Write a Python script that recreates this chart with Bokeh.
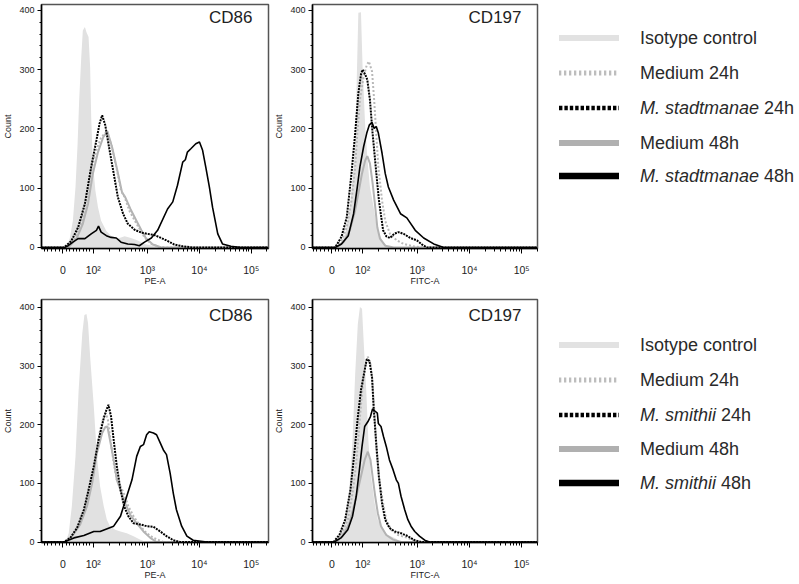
import numpy as np
from bokeh.plotting import figure
from bokeh.models import FixedTicker, SingleIntervalTicker, Label, Div, Range1d
from bokeh.layouts import row, column
from bokeh.embed import file_html
from bokeh.resources import INLINE

FONT = "Liberation Sans"

# ---- axis ticks (x in logicle display units) ----
X_TICKS = [0, 0.58, 1.615, 2.61, 3.60]
X_TICK_LABELS = ["0", "10²", "10³", "10⁴", "10⁵"]
Y_LABEL = "Count"

# ---- Panel 1: CD86, M. stadtmanae ----
P1_ISO_X = [0.00,0.07,0.13,0.19,0.24,0.28,0.31,0.35,0.38,0.42,0.45,0.49,0.52,0.54,0.57,0.62,0.67,0.73,0.83,0.92,1.05,1.18,1.30,1.43,1.56,1.75,2.00]
P1_ISO_Y = [0,3,15,45,102,175,248,321,366,372,363,355,304,220,146,96,68,45,28,20,15,19,16,12,6,2,0]
P1_MED24_X = [0.07,0.23,0.35,0.45,0.54,0.64,0.73,0.83,0.92,1.02,1.11,1.18,1.27,1.37,1.46,1.56,1.69,1.84,2.00]
P1_MED24_Y = [0,15,40,79,130,164,186,195,175,136,96,85,62,46,32,17,6,1,0]
P1_MED48_X = [0.10,0.26,0.38,0.48,0.57,0.67,0.77,0.85,0.94,1.04,1.13,1.19,1.29,1.40,1.50,1.59,1.72,1.88]
P1_MED48_Y = [0,15,40,74,124,161,186,196,169,130,93,85,65,46,29,15,5,0]
P1_M24_X = [0.02,0.16,0.29,0.42,0.54,0.64,0.70,0.75,0.81,0.87,0.96,1.05,1.15,1.24,1.37,1.50,1.62,1.75,1.88,2.00,2.13,2.29,2.48]
P1_M24_Y = [0,11,34,74,136,181,209,223,206,175,130,85,57,40,30,25,23,21,16,11,5,2,0]
P1_M48_X = [0.03,0.10,0.19,0.29,0.42,0.54,0.64,0.68,0.73,0.83,0.92,1.02,1.11,1.24,1.37,1.46,1.56,1.69,1.81,2.00,2.10,2.19,2.29,2.34,2.38,2.45,2.54,2.61,2.67,2.73,2.80,2.86,2.96,3.05,3.21,3.40]
P1_M48_Y = [0,3,9,15,15,23,29,36,26,20,17,16,9,6,5,3,9,16,29,65,77,105,144,148,161,167,175,178,164,136,102,68,23,6,2,0]

# ---- Panel 2: CD197, M. stadtmanae ----
P2_ISO_X = [0.03,0.15,0.25,0.34,0.41,0.46,0.50,0.55,0.58,0.63,0.67,0.72,0.79,0.85,0.95,1.04,1.20]
P2_ISO_Y = [0,6,23,68,136,249,396,397,306,204,153,102,68,34,12,3,0]
P2_MED24_X = [0.09,0.18,0.28,0.37,0.44,0.48,0.53,0.60,0.66,0.70,0.76,0.80,0.84,0.88,0.95,1.01,1.10,1.23,1.36,1.55,1.74]
P2_MED24_Y = [0,12,34,79,136,192,249,288,308,314,297,249,192,136,79,45,23,12,6,2,0]
P2_M24_X = [0.06,0.18,0.28,0.37,0.44,0.50,0.55,0.58,0.63,0.67,0.72,0.77,0.83,0.89,0.97,1.03,1.10,1.18,1.26,1.36,1.49,1.61,1.71,1.80]
P2_M24_Y = [0,18,51,125,193,260,292,300,292,283,249,193,136,80,29,19,16,23,26,23,16,12,5,0]
P2_MED48_X = [0.09,0.22,0.34,0.44,0.50,0.57,0.63,0.67,0.72,0.77,0.82,0.86,0.91,1.01,1.17]
P2_MED48_Y = [0,9,29,63,91,125,147,154,142,109,69,34,15,3,0]
P2_M48_X = [0.06,0.18,0.31,0.41,0.48,0.53,0.60,0.66,0.71,0.76,0.80,0.84,0.88,0.95,1.01,1.07,1.17,1.30,1.42,1.58,1.74,1.93,2.12]
P2_M48_Y = [0,6,20,57,102,136,170,193,207,211,201,204,193,159,125,102,80,57,50,29,16,6,0]

# ---- Panel 3: CD86, M. smithii ----
P3_ISO_X = [0.05,0.11,0.17,0.24,0.30,0.37,0.41,0.45,0.48,0.52,0.59,0.65,0.71,0.78,0.84,0.90,1.00,1.10,1.22,1.35,1.48,1.60]
P3_ISO_Y = [0,15,61,146,259,356,387,389,373,316,231,146,95,61,38,27,21,18,15,10,4,0]
P3_MED24_X = [0.05,0.17,0.30,0.43,0.52,0.62,0.71,0.78,0.82,0.86,0.90,0.97,1.03,1.10,1.16,1.25,1.35,1.48,1.60,1.73,1.92]
P3_MED24_Y = [0,10,30,61,95,140,191,214,220,208,180,135,106,95,84,61,44,27,15,7,0]
P3_M24_X = [0.02,0.14,0.27,0.40,0.49,0.59,0.68,0.78,0.83,0.87,0.92,0.97,1.03,1.10,1.17,1.25,1.35,1.48,1.60,1.73,1.86,1.98,2.11,2.24]
P3_M24_Y = [0,7,24,55,89,129,174,211,225,234,214,174,129,89,61,44,32,30,27,26,18,10,3,0]
P3_MED48_X = [0.05,0.17,0.33,0.46,0.56,0.65,0.75,0.81,0.85,0.90,0.97,1.03,1.10,1.19,1.29,1.41,1.54,1.67,1.79]
P3_MED48_Y = [0,9,30,61,101,152,186,196,197,174,140,106,89,66,46,32,18,7,0]
P3_M48_X = [0.02,0.21,0.40,0.59,0.71,0.97,1.10,1.22,1.32,1.41,1.48,1.54,1.60,1.65,1.73,1.79,1.86,1.92,1.98,2.05,2.11,2.17,2.27,2.37,2.49,2.75]
P3_M48_Y = [0,7,11,18,18,27,44,78,106,146,163,166,183,188,186,183,169,157,149,117,83,55,27,10,3,0]

# ---- Panel 4: CD197, M. smithii ----
P4_ISO_X = [0.04,0.14,0.23,0.33,0.39,0.44,0.49,0.53,0.57,0.60,0.65,0.69,0.74,0.81,0.87,0.97,1.06,1.19,1.31]
P4_ISO_Y = [0,10,32,89,174,287,372,401,398,344,259,174,112,66,38,21,12,7,0]
P4_MED24_X = [0.04,0.17,0.30,0.39,0.46,0.52,0.58,0.63,0.68,0.73,0.77,0.81,0.84,0.90,0.97,1.03,1.12,1.25,1.44,1.63]
P4_MED24_Y = [0,12,38,83,134,202,265,299,316,304,270,214,157,106,66,38,21,12,7,0]
P4_M24_X = [0.03,0.14,0.25,0.35,0.43,0.49,0.55,0.62,0.66,0.71,0.76,0.79,0.84,0.89,0.95,1.01,1.09,1.19,1.31,1.44,1.57,1.70]
P4_M24_Y = [0,12,38,89,157,213,259,293,312,309,281,230,168,111,66,38,24,18,15,10,3,0]
P4_MED48_X = [0.08,0.20,0.33,0.43,0.52,0.62,0.68,0.73,0.77,0.82,0.87,0.93,1.03,1.16,1.31]
P4_MED48_Y = [0,10,32,66,100,140,154,140,112,78,49,27,12,4,0]
P4_M48_X = [0.04,0.17,0.30,0.39,0.46,0.52,0.57,0.62,0.68,0.73,0.77,0.82,0.86,0.88,0.93,0.98,1.03,1.09,1.16,1.22,1.26,1.31,1.38,1.44,1.50,1.57,1.66,1.76,1.85]
P4_M48_Y = [0,7,21,44,78,123,163,197,205,214,227,223,220,202,197,179,163,140,123,106,100,78,55,38,27,18,10,3,0]

# ---- legend ----
LEGEND_TOP = [("", "Isotype control"), ("", "Medium 24h"), ("M. stadtmanae", " 24h"),
              ("", "Medium 48h"), ("M. stadtmanae", " 48h")]
LEGEND_BOTTOM = [("", "Isotype control"), ("", "Medium 24h"), ("M. smithii", " 24h"),
                 ("", "Medium 48h"), ("M. smithii", " 48h")]

# styles
ISO_FILL = "#e1e1e1"
STYLES = {
    "med48": dict(line_color="#b3b3b3", line_width=2.0),
    "med24": dict(line_color="#b8b8b8", line_width=2.0, line_dash="2 2"),
    "m48": dict(line_color="#000000", line_width=1.6),
    "m24": dict(line_color="#000000", line_width=2.0, line_dash="2 1"),
}
LEG_SWATCH = [
    dict(stroke="#e2e2e2", w=6, dash=None),
    dict(stroke="#bdbdbd", w=5, dash="2.3,2.7"),
    dict(stroke="#000000", w=4.7, dash="3.4,2"),
    dict(stroke="#b0b0b0", w=6, dash=None),
    dict(stroke="#000000", w=6.5, dash=None),
]


def x_minor_ticks(x_end):
    minor = []
    for lo, hi in zip(X_TICKS[1:-1], X_TICKS[2:]):
        for m in range(2, 10):
            minor.append(lo + np.log10(m) * (hi - lo))
    step = X_TICKS[4] - X_TICKS[3]
    for m in range(2, 10):
        v = X_TICKS[4] + np.log10(m) * step
        if v < x_end:
            minor.append(v)
    minor += [-0.36, -0.29, -0.22, -0.14, -0.07]
    minor += [X_TICKS[1] * k / 9 for k in range(1, 9)]
    return [float(v) for v in minor]


def panel(title, xlabel, data, x_range, y_range, frame_w, frame_h, left, right, top, bottom, title_y):
    p = figure(width=left + frame_w + right, height=top + frame_h + bottom,
               x_range=Range1d(*x_range), y_range=Range1d(*y_range),
               output_backend="svg", toolbar_location=None, tools="",
               min_border_left=left, min_border_right=right,
               min_border_top=top, min_border_bottom=bottom,
               x_axis_label=xlabel, y_axis_label=Y_LABEL)
    p.grid.visible = False
    p.background_fill_color = "white"
    p.border_fill_color = "white"
    p.outline_line_color = "#555555"
    p.outline_line_width = 1.5

    def ext(xs, ys):
        return [x_range[0]] + list(xs) + [x_range[1]], [0] + list(ys) + [0]

    ix, iy = ext(*data["iso"])
    p.varea(x=ix, y1=0, y2=iy, fill_color=ISO_FILL)
    for key in ["med48", "med24", "m48", "m24"]:
        xs, ys = ext(*data[key])
        p.line(xs, ys, **STYLES[key])

    p.xaxis.ticker = FixedTicker(ticks=X_TICKS, minor_ticks=x_minor_ticks(x_range[1]))
    p.xaxis.major_label_overrides = {t: l for t, l in zip(X_TICKS, X_TICK_LABELS)}
    p.yaxis.ticker = SingleIntervalTicker(interval=100, num_minor_ticks=5)

    for ax in (p.xaxis[0], p.yaxis[0]):
        ax.axis_line_color = "black"
        ax.axis_line_width = 1.5
        ax.major_tick_line_color = "black"
        ax.minor_tick_line_color = "black"
        ax.major_tick_in = 0
        ax.minor_tick_in = 0
        ax.major_label_text_font = FONT
        ax.major_label_text_font_size = "9px"
        ax.major_label_text_color = "#222222"
        ax.axis_label_text_font = FONT
        ax.axis_label_text_font_size = "9px"
        ax.axis_label_text_font_style = "normal"
        ax.axis_label_text_color = "#222222"
    p.xaxis.major_label_text_font_size = "10.5px"
    p.xaxis.major_tick_out = 5
    p.xaxis.minor_tick_out = 3
    p.xaxis.major_label_standoff = 10
    p.xaxis.axis_label_standoff = -3
    p.yaxis.major_tick_out = 4
    p.yaxis.minor_tick_out = 2
    p.yaxis.major_label_standoff = 3
    p.yaxis.axis_label_standoff = 3

    p.add_layout(Label(x=x_range[1], y=title_y, x_offset=-16, text=title,
                       text_align="right", text_baseline="middle",
                       text_font=FONT, text_font_size="17px", text_color="#222222"))
    return p


def legend_div(items, ys, width, height):
    parts = [f'<svg xmlns="http://www.w3.org/2000/svg" width="{width}" height="{height}" style="display:block">']
    for (ital, rest), y, sw in zip(items, ys, LEG_SWATCH):
        dash = f' stroke-dasharray="{sw["dash"]}"' if sw["dash"] else ""
        parts.append(f'<line x1="19" y1="{y + 1}" x2="79" y2="{y + 1}" stroke="{sw["stroke"]}" '
                     f'stroke-width="{sw["w"]}"{dash}/>')
        if ital:
            txt = f'<tspan font-style="italic">{ital}</tspan>{rest}'
        else:
            txt = rest
        parts.append(f'<text x="100" y="{y + 7}" font-family="{FONT}" '
                     f'font-size="18px" fill="#2a2a2a" xml:space="preserve">{txt}</text>')
    parts.append("</svg>")
    return Div(text="".join(parts), width=width, height=height, margin=(0, 0, 0, 0),
               styles={"overflow": "hidden"})


D1 = dict(iso=(P1_ISO_X, P1_ISO_Y), med24=(P1_MED24_X, P1_MED24_Y), m24=(P1_M24_X, P1_M24_Y),
          med48=(P1_MED48_X, P1_MED48_Y), m48=(P1_M48_X, P1_M48_Y))
D2 = dict(iso=(P2_ISO_X, P2_ISO_Y), med24=(P2_MED24_X, P2_MED24_Y), m24=(P2_M24_X, P2_M24_Y),
          med48=(P2_MED48_X, P2_MED48_Y), m48=(P2_M48_X, P2_M48_Y))
D3 = dict(iso=(P3_ISO_X, P3_ISO_Y), med24=(P3_MED24_X, P3_MED24_Y), m24=(P3_M24_X, P3_M24_Y),
          med48=(P3_MED48_X, P3_MED48_Y), m48=(P3_M48_X, P3_M48_Y))
D4 = dict(iso=(P4_ISO_X, P4_ISO_Y), med24=(P4_MED24_X, P4_MED24_Y), m24=(P4_M24_X, P4_M24_Y),
          med48=(P4_MED48_X, P4_MED48_Y), m48=(P4_M48_X, P4_M48_Y))

XR_L = (-0.41, 3.93)
XR_R = (-0.37, 3.90)
YR_TOP = (-1.7, 410)
YR_BOT = (-0.85, 413.6)

# rows: top row 4+244+42 = 290 px, bottom row 9+243+42 = 294 px (total 584)
p1 = panel("CD86", "PE-A", D1, XR_L, YR_TOP, 228, 244, 40, 2, 4, 42, 388)
p2 = panel("CD197", "FITC-A", D2, XR_R, YR_TOP, 225, 244, 42, 3, 4, 42, 388)
p3 = panel("CD86", "PE-A", D3, XR_L, YR_BOT, 228, 243, 40, 2, 9, 42, 386)
p4 = panel("CD197", "FITC-A", D4, XR_R, YR_BOT, 225, 243, 42, 3, 9, 42, 386)

leg_top = legend_div(LEGEND_TOP, [37, 72, 107, 142, 175], 259, 290)
leg_bot = legend_div(LEGEND_BOTTOM, [54, 89, 124, 158, 192], 259, 294)

layout = column(row(p1, p2, leg_top), row(p3, p4, leg_bot))

open("out.html", "w").write(file_html(layout, INLINE))
